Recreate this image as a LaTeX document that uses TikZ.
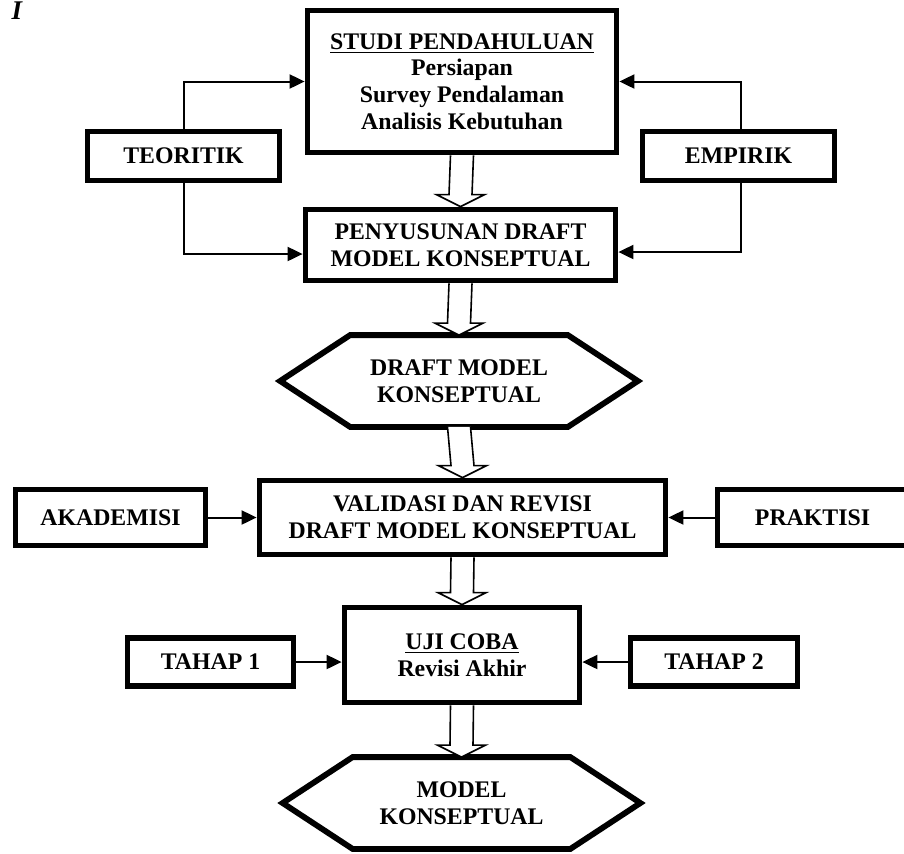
\documentclass[tikz,border=0pt]{standalone}
\usepackage{fontspec}
\setmainfont{Liberation Serif}
\usetikzlibrary{arrows.meta,calc,positioning}

% block arrow between two stacked nodes
\newcommand{\hollowarrow}[2]{%
  \draw[hollow] ($(#1.south)+(-11.5,0)$) -- ($(#2.north)+(-11.5,-12)$)
    -- ($(#2.north)+(-24,-12)$) -- (#2.north) -- ($(#2.north)+(24,-12)$)
    -- ($(#2.north)+(11.5,-12)$) -- ($(#1.south)+(11.5,0)$);}
% hexagon outline round a (blank) node
\newcommand{\hexframe}[1]{%
  \draw[frame] (#1.west) -- ($(#1.north west)+(70,0)$) -- ($(#1.north east)+(-70,0)$)
    -- (#1.east) -- ($(#1.south east)+(-70,0)$) -- ($(#1.south west)+(70,0)$) -- cycle;}

\begin{document}
\begin{tikzpicture}[x=0.5pt,y=-0.5pt,
        txt/.style={align=center, inner sep=0pt,
                    font=\fontsize{11.9}{13.3}\selectfont\bfseries},
        box/.style={txt, draw, line width=2.9pt},
        hexa/.style={txt, minimum width=178.5pt, minimum height=45.5pt},
        frame/.style={line width=2.9pt, line join=miter},
        arr/.style={-{Triangle[length=7.5pt,width=7pt]}, line width=1pt},
        line/.style={line width=1pt},
        hollow/.style={line width=0.8pt, fill=white}
    ]
        \useasboundingbox (0,0) rectangle (904,853);

        \node[font=\fontsize{13.5}{15}\selectfont\bfseries\itshape, anchor=base] (fig) at (17,19.5) {I};

        % ── Main column ───────────────────────────────────────────────────
        \node[box, minimum width=154.5pt, minimum height=71pt] (studi) at (462, 81.5)
            {\underline{STUDI PENDAHULUAN}\\Persiapan\\Survey Pendalaman\\Analisis Kebutuhan};
        \node[box, minimum width=155pt, minimum height=35.5pt] (susun) at (460.5, 245)
            {PENYUSUNAN DRAFT\\MODEL KONSEPTUAL};
        \node[hexa] (draft) at (459, 381) {DRAFT MODEL\\KONSEPTUAL};
        \node[box, minimum width=203pt, minimum height=37pt] (valid) at (462.5, 517.5)
            {VALIDASI DAN REVISI\\DRAFT MODEL KONSEPTUAL};
        \node[box, minimum width=117.5pt, minimum height=47.5pt] (uji) at (462, 655)
            {\underline{UJI COBA}\\Revisi Akhir};
        \node[hexa] (model) at (461.5, 803) {MODEL\\KONSEPTUAL};
        \hexframe{draft}
        \hexframe{model}

        % ── Side inputs ───────────────────────────────────────────────────
        \node[box, minimum width=96pt, minimum height=24.5pt] (teori) at (183.5, 156) {TEORITIK};
        \node[box, minimum width=96pt, minimum height=24.5pt] (empir) at (738.5, 156) {EMPIRIK};
        \node[box, minimum width=95pt, minimum height=28pt] (akad) at (110.5, 517.5) {AKADEMISI};
        \node[box, minimum width=95pt, minimum height=28pt] (prak) at (812.5, 517.5) {PRAKTISI};
        \node[box, minimum width=83pt, minimum height=24pt] (tahap1) at (210.5, 662) {TAHAP 1};
        \node[box, minimum width=83.5pt, minimum height=24pt] (tahap2) at (714, 662) {TAHAP 2};

        % ── Block arrows down the column ─────────────────────────────────
        \hollowarrow{studi}{susun}
        \hollowarrow{susun}{draft}
        \hollowarrow{draft}{valid}
        \hollowarrow{valid}{uji}
        \hollowarrow{uji}{model}

        % ── Loops from TEORITIK / EMPIRIK ────────────────────────────────
        \draw[arr] (teori.north) |- (studi.west);
        \draw[arr] (teori.south) |- ([yshift=-4.5pt]susun.west);
        \draw[arr] ([xshift=1.25pt]empir.north) |- (studi.east);
        \draw[arr] ([xshift=1.25pt]empir.south) |- ([yshift=-3.5pt]susun.east);

        % ── Horizontal inputs ────────────────────────────────────────────
        \draw[arr] (akad) -- (valid);
        \draw[arr] (prak) -- (valid);
        \draw[arr] (tahap1.east) -- (tahap1.east -| uji.west);
        \draw[arr] (tahap2.west) -- (tahap2.west -| uji.east);

    \end{tikzpicture}
\end{document}
